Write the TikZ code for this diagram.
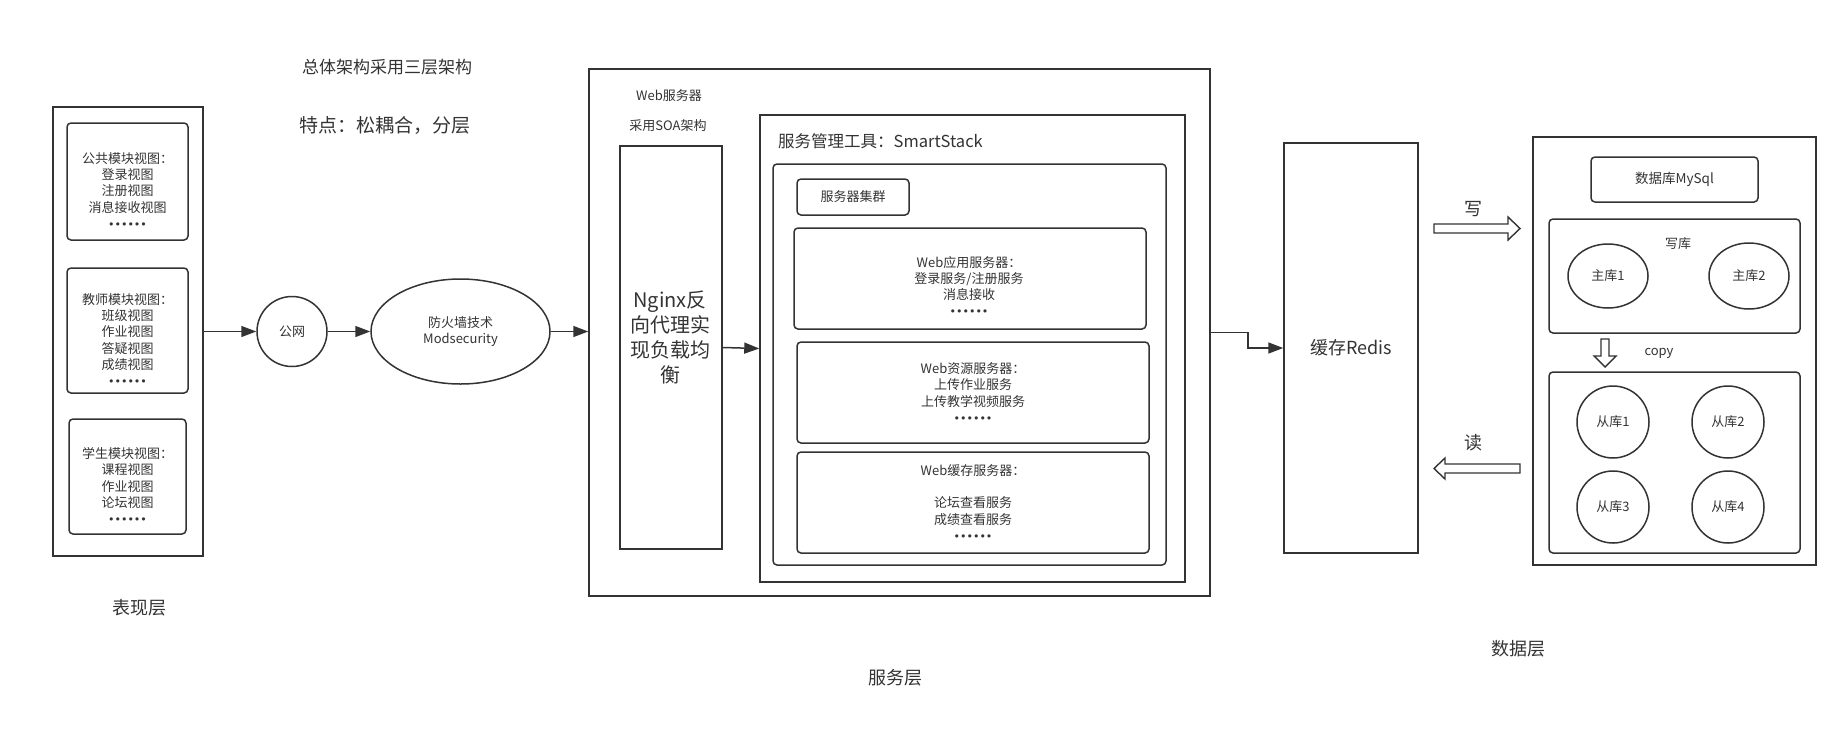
\documentclass[tikz,border=0pt]{standalone}
\usepackage{fontspec}
\setmainfont{Noto Sans CJK SC}
\newfontfamily\dotfont{DejaVu Sans}
\usetikzlibrary{arrows.meta}
\usetikzlibrary{shapes.geometric}
\usepackage{xcolor}
\definecolor{ink}{HTML}{333333}
\newcommand{\fsz}[2]{\fontsize{#1}{#2}\selectfont}
\newcommand{\sixdots}{{\dotfont\fontsize{11}{16.3}\selectfont ••••••}}

\begin{document}
\begin{tikzpicture}[x=1pt,y=-1pt,
   every node/.style={text=ink},
   frame/.style={draw=ink,line width=1.5pt,inner sep=0pt},
   card/.style={frame,rounded corners=4pt},
   txt/.style={align=center,inner sep=0pt,font=\fsz{13}{16.3}},
   conn/.style={draw=ink,line width=1.5pt,-{Triangle[length=15pt,width=11pt]}},
   hollow/.style={draw=ink,line width=1.4pt,fill=white,line join=miter}]
   \useasboundingbox (0,0) rectangle (1847,729);

   % titles
   \node[txt,font=\fsz{17}{20}] (title) at (387,67) {总体架构采用三层架构};
   \node[txt,font=\fsz{19}{22}] (motto) at (385,126) {特点：松耦合，分层};

   % presentation layer
   \node[frame,minimum width=150,minimum height=449] (pres) at (128,331.5) {};
   \node[card,minimum width=121,minimum height=117] (pub) at (127.5,181.5) {};
   \node[txt] (pubtxt) at (127.5,190.5) {公共模块视图：\\登录视图\\注册视图\\消息接收视图\\\sixdots};
   \node[card,minimum width=121,minimum height=125] (tea) at (127.5,330.5) {};
   \node[txt] (teatxt) at (127.5,339.5) {教师模块视图：\\班级视图\\作业视图\\答疑视图\\成绩视图\\\sixdots};
   \node[card,minimum width=117,minimum height=115] (stu) at (127.5,476.5) {};
   \node[txt] (stutxt) at (127.5,485.5) {学生模块视图：\\课程视图\\作业视图\\论坛视图\\\sixdots};
   \node[txt,font=\fsz{18}{21}] (preslbl) at (139,608) {表现层};

   \node[frame,circle,minimum size=70,txt] (net) at (292,331.5) {公网};
   \node[frame,ellipse,minimum width=179,minimum height=105,txt] (fw) at (460.5,331.5) {防火墙技术\\Modsecurity};

   % service layer
   \node[frame,minimum width=621,minimum height=527] (svc) at (899.5,332.5) {};
   \node[txt] (websrv) at (669,96) {Web服务器};
   \node[txt] (soa) at (668,126) {采用SOA架构};
   \node[frame,minimum width=102,minimum height=403] (ngx) at (671,347.5) {};
   \node[txt,font=\fsz{20}{25}] (ngxtxt) at (670,337) {Nginx反\\向代理实\\现负载均\\衡};
   \node[frame,minimum width=425,minimum height=467] (smart) at (972.5,348.5) {};
   \node[txt,font=\fsz{16.5}{20},anchor=west] (smartlbl) at (778,141) {服务管理工具：SmartStack};
   \node[card,minimum width=393,minimum height=401] (cluster) at (969.5,364.5) {};
   \node[card,minimum width=112,minimum height=36,txt] (tag) at (853,197) {服务器集群};
   \node[card,minimum width=352,minimum height=101] (app) at (970,278.5) {};
   \node[txt] (apptxt) at (969,286) {Web应用服务器：\\登录服务/注册服务\\消息接收\\\sixdots};
   \node[card,minimum width=352,minimum height=101,txt] (res) at (973,392.5) {Web资源服务器：\\上传作业服务\\上传教学视频服务\\\sixdots};
   \node[card,minimum width=352,minimum height=101,txt] (cache) at (973,502.5) {Web缓存服务器：\\[16pt]论坛查看服务\\成绩查看服务\\\sixdots};
   \node[txt,font=\fsz{18}{21}] (svclbl) at (895,678) {服务层};

   % data layer
   \node[frame,minimum width=134,minimum height=410,txt,font=\fsz{18}{21}] (redis) at (1351,348) {缓存Redis};
   \node[frame,minimum width=283,minimum height=428] (db) at (1674.5,351) {};
   \node[card,minimum width=167,minimum height=45,txt,font=\fsz{13.5}{16}] (mysql) at (1674.5,179.5) {数据库MySql};
   \node[card,minimum width=251,minimum height=114] (master) at (1674.5,276) {};
   \node[txt] (masterlbl) at (1678,244) {写库};
   \node[frame,ellipse,minimum width=80,minimum height=64,txt] (m1) at (1608,276) {主库1};
   \node[frame,ellipse,minimum width=80,minimum height=66,txt] (m2) at (1749,276) {主库2};
   \node[card,minimum width=251,minimum height=181] (slave) at (1674.5,462.5) {};
   \node[frame,circle,minimum size=72,txt] (s1) at (1613,422) {从库1};
   \node[frame,circle,minimum size=72,txt] (s2) at (1728,422) {从库2};
   \node[frame,circle,minimum size=72,txt] (s3) at (1613,507) {从库3};
   \node[frame,circle,minimum size=72,txt] (s4) at (1728,507) {从库4};
   \node[txt] (copylbl) at (1659,353) {copy};
   \node[txt,font=\fsz{18}{21}] (wrlbl) at (1473,209) {写};
   \node[txt,font=\fsz{18}{21}] (rdlbl) at (1473,443) {读};
   \node[txt,font=\fsz{18}{21}] (datalbl) at (1518,649) {数据层};

   % block arrows
   \path[hollow] (1434,224)--(1508,224)--(1508,217)--(1520,228.5)--(1508,240)--(1508,233)--(1434,233)--cycle;
   \path[hollow] (1520,464)--(1445,464)--(1445,458)--(1434,468.5)--(1445,479)--(1445,473)--(1520,473)--cycle;
   \path[hollow] (1601,339)--(1609,339)--(1609,356)--(1616,356)--(1605,367)--(1594,356)--(1601,356)--cycle;

   % connectors
   \draw[conn] (pres.east) -- (net.west);
   \draw[conn] (net.east) -- (fw.west);
   \draw[conn] (fw.east) -- (fw.east -| svc.west);
   \draw[conn] (ngx.east) -- (smart.west);
   \draw[conn] (svc.east) -- ([xshift=37pt]svc.east) |- (redis.west);
\end{tikzpicture}
\end{document}
